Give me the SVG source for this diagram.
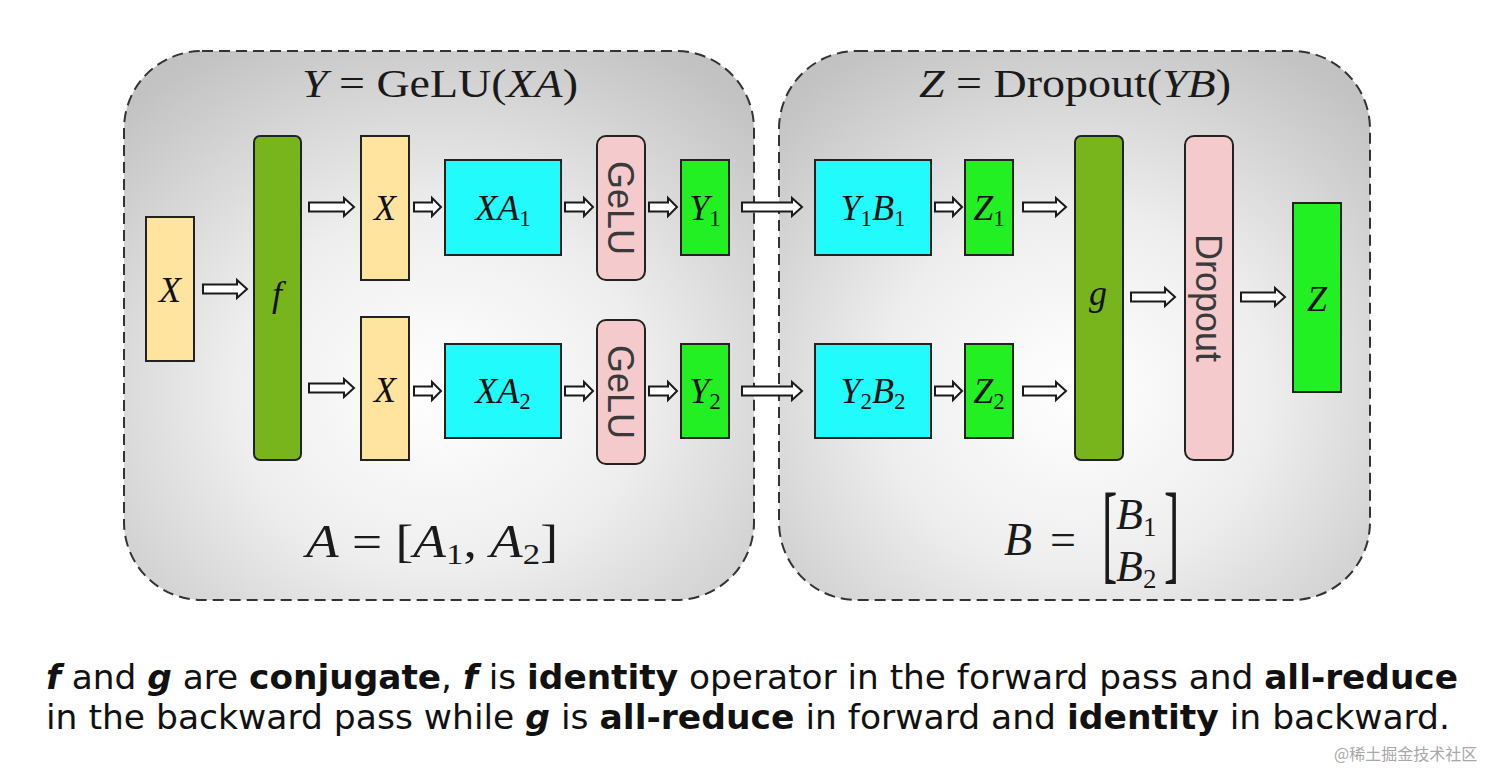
<svg xmlns="http://www.w3.org/2000/svg" width="1512" height="772" viewBox="0 0 1512 772">
<defs>
<radialGradient id="pg" cx="0.5" cy="0.62" r="0.72">
<stop offset="0" stop-color="#ffffff"/>
<stop offset="0.45" stop-color="#eeeeee"/>
<stop offset="1" stop-color="#c2c2c2"/>
</radialGradient>
<style>
.panel{fill:url(#pg);stroke:#333;stroke-width:2;stroke-dasharray:11 6}
.box{stroke:#222;stroke-width:2}
.yel{fill:#fee49e}
.olv{fill:#78b41c}
.cyn{fill:#22fbfb}
.pnk{fill:#f4cacc}
.grn{fill:#22f022}
.arr{fill:#fff;stroke:#1a1a1a;stroke-width:2;stroke-linejoin:miter}
.m{font-family:"Liberation Serif","DejaVu Serif",serif;fill:#1a1a1a}
.mi{font-family:"Liberation Serif","DejaVu Serif",serif;font-style:italic;fill:#1a1a1a}
.lbl{font-family:"Liberation Serif","DejaVu Serif",serif;font-style:italic;font-size:36px;fill:#111;text-anchor:middle}
.sub{font-style:normal;font-size:23px}
.rot{font-family:"Liberation Sans","DejaVu Sans",sans-serif;font-size:36px;fill:#3a3a3a;text-anchor:middle}
.cap{font-family:"DejaVu Sans Condensed","Open Sans","DejaVu Sans",sans-serif;font-stretch:condensed;font-size:34px;fill:#111}
.b{font-weight:bold}
.bi{font-weight:bold;font-style:italic}
</style>
</defs>
<rect width="1512" height="772" fill="#fff"/>
<g id="panel-left">
<rect class="panel" x="124" y="51" width="630" height="549" rx="78" ry="78"/>
<text class="m" x="440" y="97" font-size="40" text-anchor="middle" textLength="276" lengthAdjust="spacingAndGlyphs"><tspan font-style="italic">Y</tspan> = GeLU(<tspan font-style="italic">XA</tspan>)</text>
<text class="m" x="432" y="557" font-size="46" text-anchor="middle" textLength="252" lengthAdjust="spacingAndGlyphs"><tspan font-style="italic">A</tspan> = [<tspan font-style="italic">A</tspan><tspan font-size="30" dy="7">1</tspan><tspan dy="-7">, </tspan><tspan font-style="italic">A</tspan><tspan font-size="30" dy="7">2</tspan><tspan dy="-7">]</tspan></text>
</g>
<g id="panel-right">
<rect class="panel" x="779" y="51" width="591" height="549" rx="78" ry="78"/>
<text class="m" x="1075" y="97" font-size="40" text-anchor="middle" textLength="312" lengthAdjust="spacingAndGlyphs"><tspan font-style="italic">Z</tspan> = Dropout(<tspan font-style="italic">YB</tspan>)</text>
<text class="mi" x="1004" y="555" font-size="46">B</text>
<text class="m" x="1050" y="555" font-size="46">=</text>
<text class="m" x="1102" y="0" font-size="46" transform="translate(0,569) scale(1,2.4)">[</text>
<text class="mi" x="1116" y="529" font-size="44">B<tspan style="font-style:normal;font-size:27px" dy="7">1</tspan></text>
<text class="mi" x="1116" y="581" font-size="44">B<tspan style="font-style:normal;font-size:27px" dy="7">2</tspan></text>
<text class="m" x="1164" y="0" font-size="46" transform="translate(0,569) scale(1,2.4)">]</text>
</g>
<g id="connectors">
<path class="arr" d="M203,284.5 H237 V280 L247,289 L237,298 V293.5 H203 Z"/>
<path class="arr" d="M309,202.5 H344 V198 L354,207 L344,216 V211.5 H309 Z"/>
<path class="arr" d="M309,383.5 H344 V379 L354,388 L344,397 V392.5 H309 Z"/>
<path class="arr" d="M414,202.5 H432 V198 L441,207 L432,216 V211.5 H414 Z"/>
<path class="arr" d="M565,202.5 H584 V198 L593,207 L584,216 V211.5 H565 Z"/>
<path class="arr" d="M649,202.5 H668 V198 L677,207 L668,216 V211.5 H649 Z"/>
<path class="arr" d="M742,202.5 H792 V198 L802,207 L792,216 V211.5 H742 Z"/>
<path class="arr" d="M935,202.5 H953 V198 L962,207 L953,216 V211.5 H935 Z"/>
<path class="arr" d="M1023,202.5 H1056 V198 L1066,207 L1056,216 V211.5 H1023 Z"/>
<path class="arr" d="M414,386.5 H432 V382 L441,391 L432,400 V395.5 H414 Z"/>
<path class="arr" d="M565,386.5 H584 V382 L593,391 L584,400 V395.5 H565 Z"/>
<path class="arr" d="M649,386.5 H668 V382 L677,391 L668,400 V395.5 H649 Z"/>
<path class="arr" d="M742,386.5 H792 V382 L802,391 L792,400 V395.5 H742 Z"/>
<path class="arr" d="M935,386.5 H953 V382 L962,391 L953,400 V395.5 H935 Z"/>
<path class="arr" d="M1023,386.5 H1056 V382 L1066,391 L1056,400 V395.5 H1023 Z"/>
<path class="arr" d="M1131,292.5 H1165 V288 L1175,297 L1165,306 V301.5 H1131 Z"/>
<path class="arr" d="M1241,292.5 H1275 V288 L1285,297 L1275,306 V301.5 H1241 Z"/>
</g>
<g id="node-x-in"><rect class="box yel" x="146" y="217" width="48" height="144"/><text class="lbl" x="170" y="302">X</text></g>
<g id="node-f"><rect class="box olv" x="254" y="136" width="47" height="324" rx="6"/><text class="lbl" x="277" y="306" font-size="38">f</text></g>
<g id="node-x1"><rect class="box yel" x="361" y="136" width="48" height="144"/><text class="lbl" x="385" y="220">X</text></g>
<g id="node-xa1"><rect class="box cyn" x="445" y="160" width="116" height="95"/><text class="lbl" x="503" y="220">XA<tspan class="sub" dy="6">1</tspan></text></g>
<g id="node-gelu1"><rect class="box pnk" x="597" y="136" width="48" height="144" rx="9"/><text class="rot" transform="translate(608,208) rotate(90)">GeLU</text></g>
<g id="node-y1"><rect class="box grn" x="681" y="160" width="48" height="95"/><text class="lbl" x="705" y="220">Y<tspan class="sub" dy="6">1</tspan></text></g>
<g id="node-x2"><rect class="box yel" x="361" y="317" width="48" height="143"/><text class="lbl" x="385" y="402">X</text></g>
<g id="node-xa2"><rect class="box cyn" x="445" y="344" width="116" height="94"/><text class="lbl" x="503" y="403">XA<tspan class="sub" dy="6">2</tspan></text></g>
<g id="node-gelu2"><rect class="box pnk" x="597" y="320" width="48" height="144" rx="9"/><text class="rot" transform="translate(608,392) rotate(90)">GeLU</text></g>
<g id="node-y2"><rect class="box grn" x="681" y="344" width="48" height="94"/><text class="lbl" x="705" y="403">Y<tspan class="sub" dy="6">2</tspan></text></g>
<g id="node-y1b1"><rect class="box cyn" x="815" y="160" width="116" height="95"/><text class="lbl" x="873" y="220">Y<tspan class="sub" dy="6">1</tspan><tspan dy="-6">B</tspan><tspan class="sub" dy="6">1</tspan></text></g>
<g id="node-z1"><rect class="box grn" x="965" y="160" width="48" height="95"/><text class="lbl" x="989" y="220">Z<tspan class="sub" dy="6">1</tspan></text></g>
<g id="node-y2b2"><rect class="box cyn" x="815" y="344" width="116" height="94"/><text class="lbl" x="873" y="403">Y<tspan class="sub" dy="6">2</tspan><tspan dy="-6">B</tspan><tspan class="sub" dy="6">2</tspan></text></g>
<g id="node-z2"><rect class="box grn" x="965" y="344" width="48" height="94"/><text class="lbl" x="989" y="403">Z<tspan class="sub" dy="6">2</tspan></text></g>
<g id="node-g"><rect class="box olv" x="1075" y="136" width="48" height="324" rx="6"/><text class="lbl" x="1098" y="305" font-size="40">g</text></g>
<g id="node-dropout"><rect class="box pnk" x="1185" y="136" width="48" height="324" rx="9"/><text class="rot" transform="translate(1196,298) rotate(90)">Dropout</text></g>
<g id="node-z"><rect class="box grn" x="1293" y="203" width="48" height="189"/><text class="lbl" x="1317" y="311" font-size="42">Z</text></g>
<g id="caption">
<text class="cap" x="46" y="689" textLength="1412" lengthAdjust="spacingAndGlyphs"><tspan class="bi">f</tspan> and <tspan class="bi">g</tspan> are <tspan class="b">conjugate</tspan>, <tspan class="bi">f</tspan> is <tspan class="b">identity</tspan> operator in the forward pass and <tspan class="b">all-reduce</tspan></text>
<text class="cap" x="46" y="729" textLength="1404" lengthAdjust="spacingAndGlyphs">in the backward pass while <tspan class="bi">g</tspan> is <tspan class="b">all-reduce</tspan> in forward and <tspan class="b">identity</tspan> in backward.</text>
<text x="1334" y="760" font-family="'Noto Sans CJK SC',sans-serif" font-size="16" fill="#a8a8a8">@稀土掘金技术社区</text>
</g>
</svg>
